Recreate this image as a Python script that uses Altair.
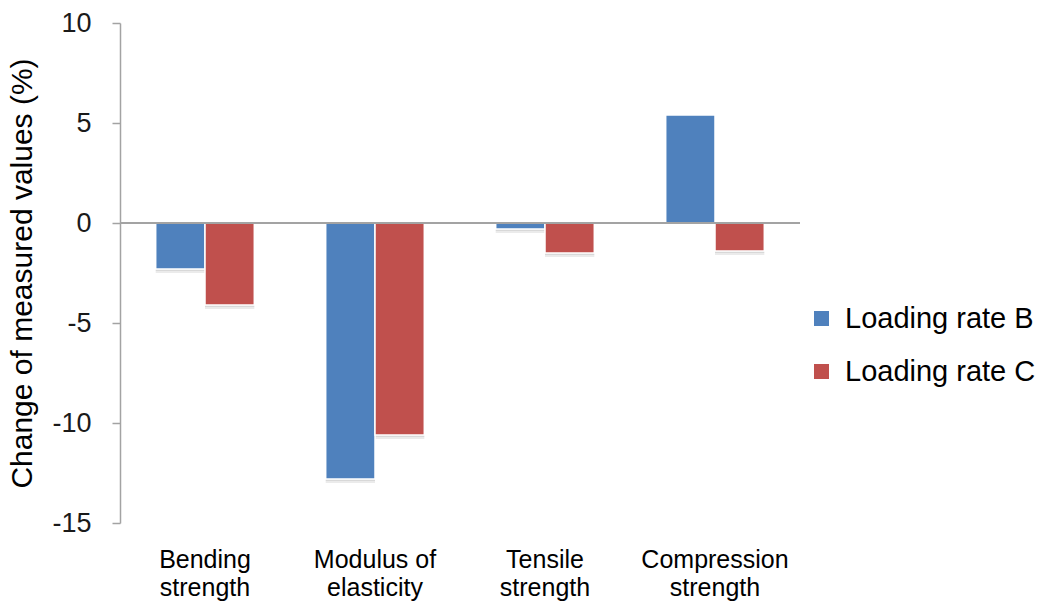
import altair as alt
import pandas as pd

# Chart data
categories = ["Bending strength", "Modulus of elasticity", "Tensile strength", "Compression strength"]
label_lines = [["Bending", "strength"], ["Modulus of", "elasticity"], ["Tensile", "strength"], ["Compression", "strength"]]
series = ["Loading rate B", "Loading rate C"]
rate_b = [-2.3, -12.8, -0.3, 5.4]
rate_c = [-4.1, -10.6, -1.5, -1.4]
colors = ["#4F81BD", "#C0504D"]
y_ticks = [-15, -10, -5, 0, 5, 10]

rows = []
for cat, b, c in zip(categories, rate_b, rate_c):
    rows.append({"property": cat, "rate": series[0], "change": b})
    rows.append({"property": cat, "rate": series[1], "change": c})
df = pd.DataFrame(rows)

# two-line category labels
label_expr = ""
for cat, lines in zip(categories, label_lines):
    arr = "[" + ",".join("'" + s + "'" for s in lines) + "]"
    label_expr += f"datum.label == '{cat}' ? {arr} : "
label_expr += "datum.label"

FONT = "Liberation Sans"
AXIS_GRAY = "#A3A3A3"

x_enc = alt.X(
    "property:N",
    sort=categories,
    scale=alt.Scale(paddingInner=0.42, paddingOuter=0.21),
    axis=alt.Axis(
        title=None, orient="bottom", domain=False, ticks=False, tickSize=0,
        labelAngle=0, labelFontSize=25, labelColor="#000000", labelFont=FONT,
        labelBaseline="alphabetic", labelPadding=44, labelLineHeight=28,
        labelExpr=label_expr,
    ),
)
y_scale = alt.Scale(domain=[-15, 10], nice=False, zero=False)
y_enc = alt.Y(
    "change:Q",
    scale=y_scale,
    axis=alt.Axis(
        title="Change of measured values (%)", values=y_ticks, grid=False,
        labelExpr="toString(datum.value)",
        domainColor=AXIS_GRAY, domainWidth=1.5, tickColor=AXIS_GRAY, tickWidth=1.5,
        tickSize=8, labelPadding=21, labelFontSize=27, labelColor="#1a1a1a", labelFont=FONT,
        titleFontSize=30, titleFontWeight="normal", titleFont=FONT, titleColor="#000000",
        titleAngle=-90, titleX=-98, titleY=250, titleAlign="center", titleBaseline="middle",
    ),
)
xoff = alt.XOffset("rate:N", sort=series)

base = alt.Chart(df)

# soft drop shadow under each bar
shadow1 = base.mark_bar(color="#000000", opacity=0.08, yOffset=4).encode(
    x=x_enc, y=y_enc, xOffset=xoff, y2=alt.datum(0)
)
shadow2 = base.mark_bar(color="#000000", opacity=0.08, yOffset=2).encode(
    x=x_enc, y=y_enc, xOffset=xoff, y2=alt.datum(0)
)

bars = base.mark_bar(stroke="#FFFFFF", strokeWidth=1.5).encode(
    x=x_enc,
    y=y_enc,
    y2=alt.datum(0),
    xOffset=xoff,
    color=alt.Color(
        "rate:N",
        sort=series,
        scale=alt.Scale(domain=series, range=colors),
        legend=alt.Legend(
            title=None, orient="none", legendX=687, legendY=281,
            symbolType="square", symbolSize=225, symbolStrokeWidth=0,
            labelFontSize=29, labelFont=FONT, labelColor="#000000", labelLimit=0,
            labelOffset=9, rowPadding=23, padding=0,
        ),
    ),
)

zero_line = alt.Chart(pd.DataFrame({"v": [0]})).mark_rule(color=AXIS_GRAY, strokeWidth=2).encode(
    y=alt.Y("v:Q", scale=y_scale)
)

chart = (
    alt.layer(shadow1, shadow2, bars, zero_line)
    .properties(
        width=680,
        height=500,
        autosize=alt.AutoSizeParams(type="none"),
        padding={"left": 120, "top": 23, "right": 237, "bottom": 80},
        background="#FFFFFF",
    )
    .configure(font=FONT)
    .configure_view(strokeWidth=0, strokeOpacity=0)
)

chart.save("out.html", embed_options={"renderer": "svg", "actions": False})
